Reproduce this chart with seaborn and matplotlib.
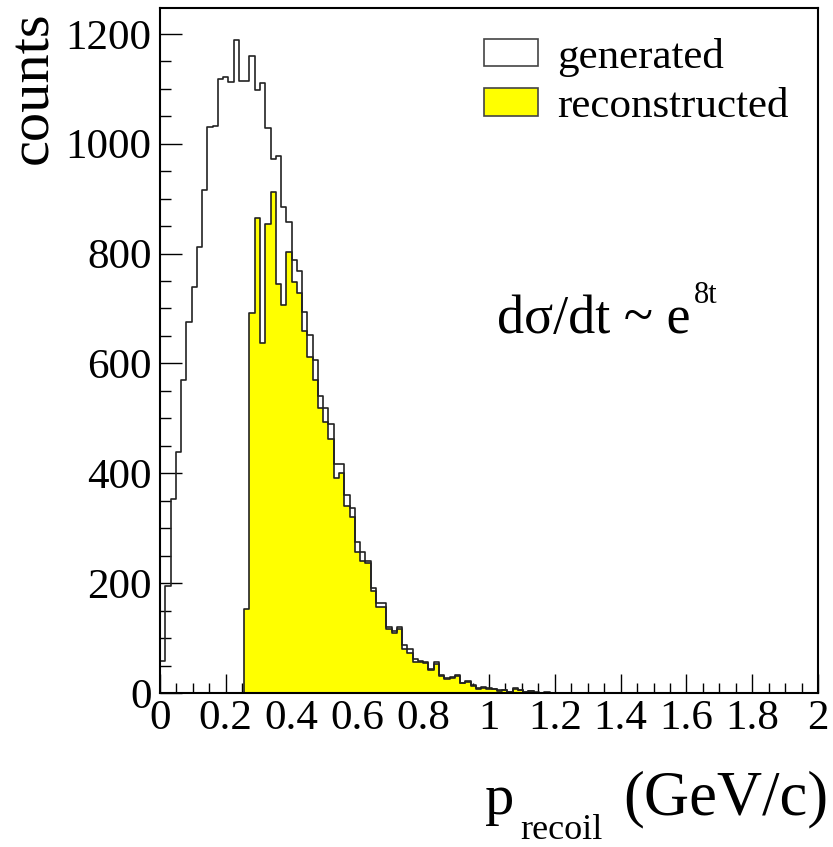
import numpy as np
import pandas as pd
import matplotlib
matplotlib.use("Agg")
import matplotlib.pyplot as plt
from matplotlib.patches import Patch
import seaborn as sns

# 125 bins of 0.016 GeV/c between 0 and 2, counts
n_bins = 125
p_min, p_max = 0.0, 2.0

generated = [58, 195, 354, 439, 569, 675, 740, 812, 915, 1030,
             1033, 1117, 1121, 1112, 1188, 1115, 1114, 1159, 1098, 1110,
             1028, 973, 977, 885, 857, 789, 768, 694, 651, 607,
             540, 518, 489, 416, 416, 361, 336, 274, 257, 241,
             192, 163, 163, 121, 113, 121, 87, 80, 62, 59,
             57, 43, 56, 33, 27, 29, 33, 19, 22, 15,
             9, 11, 10, 8, 5, 6, 2, 9, 6, 1,
             4, 1, 0, 1, 0]

reconstructed = [0, 0, 0, 0, 0, 0, 0, 0, 0, 0,
                 0, 0, 0, 0, 0, 0, 153, 691, 865, 638,
                 853, 912, 745, 707, 802, 748, 729, 659, 611, 569,
                 518, 494, 463, 391, 401, 340, 321, 257, 241, 236,
                 186, 156, 156, 116, 109, 117, 81, 73, 56, 56,
                 54, 42, 53, 31, 26, 27, 31, 18, 20, 13,
                 7, 10, 8, 7, 4, 5, 1, 8, 5, 1,
                 3, 0, 0, 0, 0]

legend_labels = ["generated", "reconstructed"]

edges = np.linspace(p_min, p_max, n_bins + 1)
width = edges[1] - edges[0]
df_gen = pd.DataFrame({"p": edges[:len(generated)] + width / 2, "n": generated})
df_rec = pd.DataFrame({"p": edges[:len(reconstructed)] + width / 2, "n": reconstructed})

sns.set_theme(style="white")
plt.rcParams["font.family"] = ["Liberation Serif", "DejaVu Serif"]
plt.rcParams["text.color"] = "black"
plt.rcParams["xtick.color"] = "black"
plt.rcParams["ytick.color"] = "black"

W, H = 833, 847
fig = plt.figure(figsize=(W / 100, H / 100), dpi=100)
ax = fig.add_axes([160 / W, 1 - 693 / H, 658 / W, 685 / H])

sns.histplot(data=df_gen, x="p", weights="n", bins=n_bins, binrange=(p_min, p_max),
             element="step", fill=False, color="#222222", linewidth=1.2, ax=ax)
sns.histplot(data=df_rec, x="p", weights="n", bins=n_bins, binrange=(p_min, p_max),
             element="step", fill=True, facecolor="#ffff00", edgecolor="#222222",
             alpha=1, linewidth=1.2, ax=ax)

ax.set_xlim(p_min, p_max)
ax.set_ylim(0, 1247)
ax.set_xticks(np.arange(0, 2.01, 0.2))
ax.set_xticklabels(["0", "0.2", "0.4", "0.6", "0.8", "1", "1.2", "1.4", "1.6", "1.8", "2"])
ax.set_xticks(np.arange(0, 2.01, 0.05), minor=True)
ax.set_yticks(np.arange(0, 1201, 200))
ax.set_yticks(np.arange(0, 1201, 50), minor=True)
ax.tick_params(axis="both", which="both", direction="in", bottom=True, left=True,
               top=False, right=False, labelsize=31, width=1, color="black",
               labelcolor="black")
ax.tick_params(axis="x", which="major", length=14, pad=5)
ax.tick_params(axis="x", which="minor", length=7)
ax.tick_params(axis="y", which="major", length=15.5, pad=6)
ax.tick_params(axis="y", which="minor", length=7.7)
for s in ax.spines.values():
    s.set_color("black")
    s.set_linewidth(1.5)
ax.set_xlabel("")
ax.set_ylabel("")

# axis titles, ROOT style
fig.text(33 / W, 1 - 88 / H, "counts", rotation=90, fontsize=42,
         ha="center", va="center")
fig.text(485 / W, 1 - 814 / H, "p", fontsize=42, ha="left", va="baseline")
fig.text(520 / W, 1 - 839 / H, "recoil", fontsize=26, ha="left", va="baseline")
fig.text(828 / W, 1 - 814 / H, "(GeV/c)", fontsize=45, ha="right", va="baseline")

# formula
fig.text(497 / W, 1 - 333 / H, "dσ/dt ~ e", fontsize=39, ha="left", va="baseline")
fig.text(694 / W, 1 - 303 / H, "8t", fontsize=22, ha="left", va="baseline")

handles = [Patch(facecolor="white", edgecolor="#444444", linewidth=1.2),
           Patch(facecolor="#ffff00", edgecolor="#444444", linewidth=1.2)]
fig.legend(handles, legend_labels, loc="upper left",
           bbox_to_anchor=(484 / W, 1 - 38 / H), frameon=False, fontsize=31,
           handlelength=1.25, handleheight=0.6, handletextpad=0.45,
           labelspacing=0.25, borderpad=0, borderaxespad=0)

fig.savefig("out.png", dpi=100)
